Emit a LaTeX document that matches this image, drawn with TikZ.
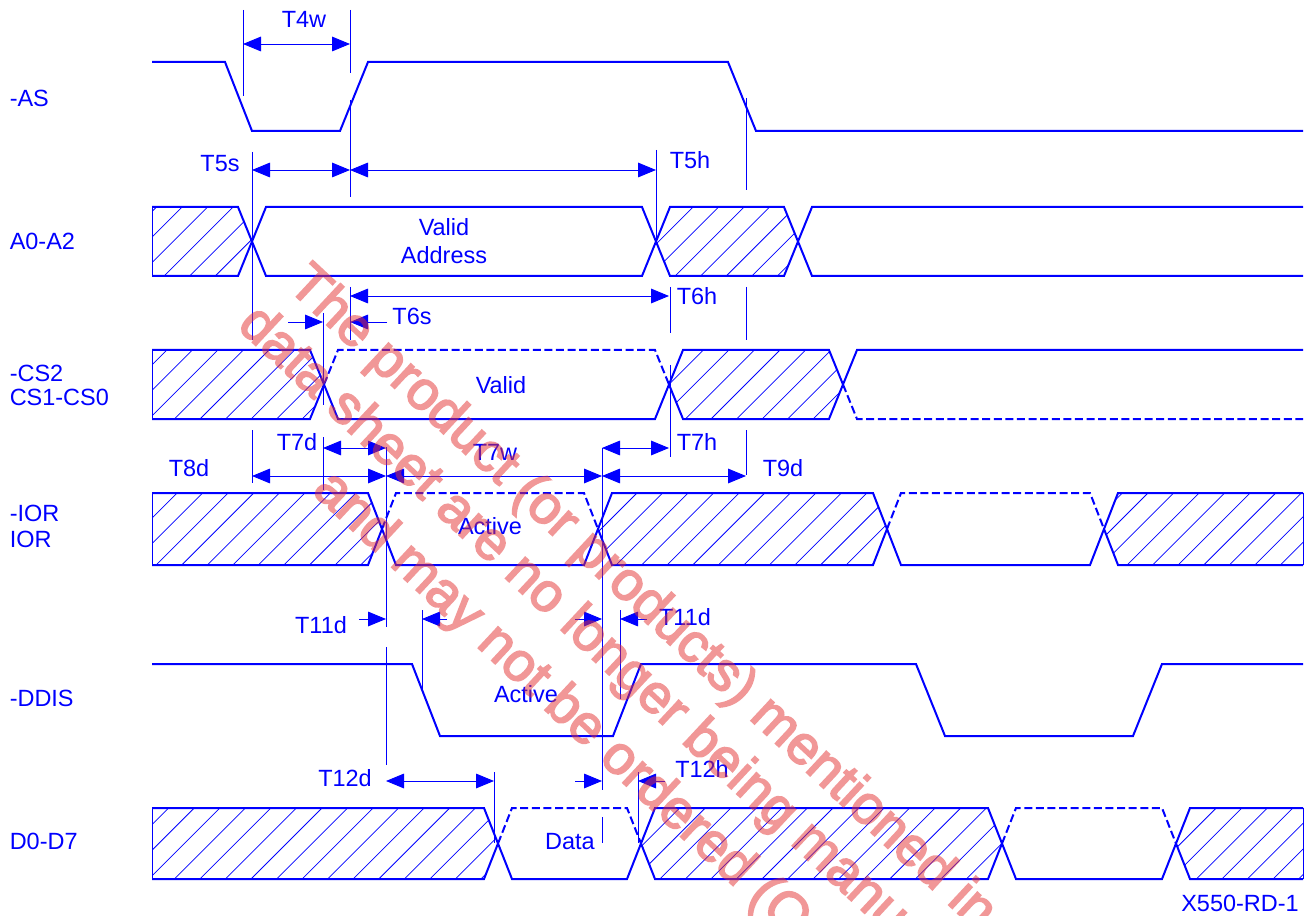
\documentclass[tikz,border=0pt]{standalone}
\usepackage{fontspec}
\setmainfont{Liberation Sans}
\newfontfamily\wmfont[FakeBold=3]{Liberation Sans}
\usetikzlibrary{arrows.meta}
\definecolor{sig}{RGB}{0,0,255}
\definecolor{wm}{RGB}{228,48,48}
\newcommand\hatchpoly[1]{\begin{scope}\clip #1;\foreach \i in {0,...,73}{\draw[hatchline] ({337.95+25.55*\i},0) -- ++(-916,916);}\end{scope}}
\begin{document}
\begin{tikzpicture}[x=0.75pt,y=-0.75pt,
  sigline/.style={draw=sig,line width=1.5pt,line join=miter},
  dsig/.style={sigline,dash pattern=on 6pt off 2.7pt},
  thinline/.style={draw=sig,line width=0.7pt},
  hatchline/.style={draw=sig,line width=0.55pt},
  dim/.style={thinline,{Triangle[length=13.5pt,width=11pt]}-{Triangle[length=13.5pt,width=11pt]}},
  tipline/.style={thinline,-{Triangle[length=13.5pt,width=11pt]}},
  lbl/.style={text=sig,font=\fontsize{17.6}{20}\selectfont,inner sep=0pt},
  sname/.style={lbl,anchor=west},
  wmark/.style={text=wm,font=\wmfont\fontsize{41}{46}\selectfont,rotate=-43,inner sep=0pt,anchor=base west}]
\useasboundingbox (0,0) rectangle (1307,916);
\fill[white] (0,0) rectangle (1307,916);

% ---------- hatching ----------
\hatchpoly{(152,207)--(238,207)--(252,241.5)--(238,276)--(152,276)--cycle}
\hatchpoly{(656,241.5)--(670,207)--(784,207)--(798,241.5)--(784,276)--(670,276)--cycle}
\hatchpoly{(152,350)--(310,350)--(324,384.5)--(310,419)--(152,419)--cycle}
\hatchpoly{(669,384.5)--(683,350)--(829,350)--(843,384.5)--(829,419)--(683,419)--cycle}
\hatchpoly{(152,493)--(368,493)--(382,529)--(368,565)--(152,565)--cycle}
\hatchpoly{(598,529)--(612,493)--(873,493)--(887,529)--(873,565)--(612,565)--cycle}
\hatchpoly{(1104,529)--(1118,493)--(1303,493)--(1303,565)--(1118,565)--cycle}
\hatchpoly{(152,808)--(484,808)--(498,843.5)--(484,879)--(152,879)--cycle}
\hatchpoly{(641,843.5)--(655,808)--(988,808)--(1002,843.5)--(988,879)--(655,879)--cycle}
\hatchpoly{(1176,843.5)--(1190,808)--(1303,808)--(1303,879)--(1190,879)--cycle}

% ---------- -AS ----------
\draw[sigline] (152,62)--(225,62)--(252,131)--(340,131)--(368,62)--(728,62)--(756,131)--(1303,131);

% ---------- A0-A2 ----------
\draw[sigline] (152,207)--(238,207)--(266,276)--(642,276)--(670,207)--(784,207)--(812,276)--(1303,276);
\draw[sigline] (152,276)--(238,276)--(266,207)--(642,207)--(670,276)--(784,276)--(812,207)--(1303,207);
\draw[hatchline] (152,207)--(152,276);

% ---------- CS ----------
\draw[sigline] (152,350)--(310,350)--(338,419)--(655,419)--(683,350)--(829,350)--(843,384.5);
\draw[dsig] (843,384.5)--(857,419)--(1303,419);
\draw[sigline] (152,419)--(310,419)--(324,384.5);
\draw[dsig] (324,384.5)--(338,350)--(655,350)--(669,384.5);
\draw[sigline] (669,384.5)--(683,419)--(829,419)--(857,350)--(1303,350);
\draw[hatchline] (152,350)--(152,419);

% ---------- IOR ----------
\draw[sigline] (152,493)--(368,493)--(396,565)--(584,565)--(612,493)--(873,493)--(901,565)--(1090,565)--(1118,493)--(1303,493);
\draw[sigline] (152,565)--(368,565)--(382,529);
\draw[dsig] (382,529)--(396,493)--(584,493)--(598,529);
\draw[sigline] (598,529)--(612,565)--(873,565)--(887,529);
\draw[dsig] (887,529)--(901,493)--(1090,493)--(1104,529);
\draw[sigline] (1104,529)--(1118,565)--(1303,565);
\draw[hatchline] (152,493)--(152,565) (1303,493)--(1303,565);

% ---------- DDIS ----------
\draw[sigline] (152,664)--(412,664)--(440,736)--(613,736)--(641,664)--(916,664)--(945,736)--(1133,736)--(1162,664)--(1303,664);

% ---------- D0-D7 ----------
\draw[sigline] (152,808)--(484,808)--(512,879)--(627,879)--(655,808)--(988,808)--(1016,879)--(1162,879)--(1190,808)--(1303,808);
\draw[sigline] (152,879)--(484,879)--(498,843.5);
\draw[dsig] (498,843.5)--(512,808)--(627,808)--(641,843.5);
\draw[sigline] (641,843.5)--(655,879)--(988,879)--(1002,843.5);
\draw[dsig] (1002,843.5)--(1016,808)--(1162,808)--(1176,843.5);
\draw[sigline] (1176,843.5)--(1190,879)--(1303,879);
\draw[hatchline] (152,808)--(152,879) (1303,808)--(1303,879);

% ---------- reference lines ----------
\draw[thinline] (243,10)--(243,96);
\draw[thinline] (350,10)--(350,73) (350,100)--(350,197) (350,287)--(350,340);
\draw[thinline] (746,98)--(746,190) (746,287)--(746,340) (746,430)--(746,475);
\draw[thinline] (252,152)--(252,340) (252,430)--(252,483);
\draw[thinline] (656,150)--(656,245);
\draw[thinline] (670,287)--(670,333) (670,365)--(670,457);
\draw[thinline] (323,313)--(323,405) (323,437)--(323,490);
\draw[thinline] (386,447)--(386,627) (386,647)--(386,765);
\draw[thinline] (602,448)--(602,790) (602,817)--(602,843);
\draw[thinline] (422,610)--(422,690);
\draw[thinline] (620,610)--(620,699);
\draw[thinline] (494,772)--(494,843);
\draw[thinline] (638,772)--(638,843);

% ---------- dimension arrows ----------
\draw[dim] (243,44)--(350,44);
\draw[dim] (252,170)--(350,170);
\draw[dim] (350,170)--(656,170);
\draw[dim] (350,296)--(669,296);
\draw[tipline] (387,322)--(350,322);
\draw[tipline] (288,322)--(323,322);
\draw[dim] (323,448)--(386,448);
\draw[dim] (602,448)--(669,448);
\draw[dim] (252,476)--(386,476);
\draw[dim] (386,476)--(602,476);
\draw[dim] (602,476)--(746,476);
\draw[tipline] (359,619)--(386,619);
\draw[tipline] (447,619)--(422,619);
\draw[tipline] (575,619)--(602,619);
\draw[tipline] (647,619)--(620,619);
\draw[dim] (386,781)--(494,781);
\draw[tipline] (575,781)--(602,781);
\draw[tipline] (665,781)--(638,781);

% ---------- timing labels ----------
\node[lbl] (t4w) at (304,19) {T4w};
\node[lbl] (t5s) at (220,163.5) {T5s};
\node[lbl] (t5h) at (690,160) {T5h};
\node[lbl] (t6h) at (697,296) {T6h};
\node[lbl] (t6s) at (412,316) {T6s};
\node[lbl] (t7d) at (297,442) {T7d};
\node[lbl] (t7w) at (495,452) {T7w};
\node[lbl] (t7h) at (697,442) {T7h};
\node[lbl] (t8d) at (189,468) {T8d};
\node[lbl] (t9d) at (783,468) {T9d};
\node[lbl] (t11a) at (321,625) {T11d};
\node[lbl] (t11b) at (685,617) {T11d};
\node[lbl] (t12d) at (345,778) {T12d};
\node[lbl] (t12h) at (702,769) {T12h};
\node[lbl] (va) at (444,227) {Valid};
\node[lbl] (ad) at (444,255) {Address};
\node[lbl] (vc) at (501,385) {Valid};
\node[lbl] (ai) at (490,526) {Active};
\node[lbl] (adl) at (526,694) {Active};
\node[lbl] (dt) at (570,842) {Data};
\node[lbl] (ref) at (1240,903.5) {X550-RD-1};

% ---------- signal names ----------
\node[sname] (nas) at (9.5,98) {-AS};
\node[sname] (na) at (9.5,241) {A0-A2};
\node[sname] (ncs2) at (9.5,373) {-CS2};
\node[sname] (ncs) at (9.5,397) {CS1-CS0};
\node[sname] (nior) at (9.5,513) {-IOR};
\node[sname] (nior2) at (9.5,539) {IOR};
\node[sname] (nddis) at (9.5,698) {-DDIS};
\node[sname] (nd) at (9.5,841) {D0-D7};

% ---------- watermark ----------
\begin{scope}
\clip (0,0) rectangle (1307,916);
\begin{scope}[transparency group,opacity=0.5]
\node[wmark] (wm1) at (286,287) {The product (or products) mentioned in};
\node[wmark] (wm2) at (236,327) {data sheet are no longer being manu};
\node[wmark] (wm3) at (311,492) {and may not be ordered (O};
\end{scope}
\end{scope}
\end{tikzpicture}
\end{document}
